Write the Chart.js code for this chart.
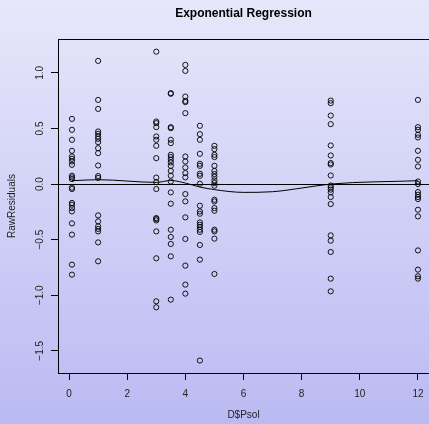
<!DOCTYPE html>
<html>
<head>
<meta charset="utf-8">
<script src="https://cdn.jsdelivr.net/npm/chart.js@4.4.0/dist/chart.umd.min.js"></script>
<style>
  html, body { margin: 0; padding: 0; background: #d0d0f6; }
  canvas { display: block; }
</style>
</head>
<body>
<canvas id="chartResid" width="429" height="424"></canvas>
<script>
// Psol levels and the raw residuals measured at each one
const psolLevels = [0.1, 1, 3, 3.5, 4, 4.5, 5, 9, 12];

const resAt0 = [0.586, 0.488, 0.398, 0.299, 0.248, 0.227, 0.203, 0.173, 0.075, 0.06, 0.045,
  -0.032, -0.045, -0.17, -0.186, -0.216, -0.246, -0.354, -0.455, -0.725, -0.815];
const resAt1 = [1.108, 0.757, 0.676, 0.473, 0.452, 0.428, 0.407, 0.377, 0.323, 0.278, 0.167,
  0.072, 0.055, -0.282, -0.336, -0.381, -0.404, -0.426, -0.525, -0.695];
const resAt3 = [1.191, 0.562, 0.548, 0.512, 0.428, 0.398, 0.344, 0.233, 0.058, 0.018, -0.045,
  -0.306, -0.314, -0.327, -0.426, -0.668, -1.055, -1.109];
const resAt3_5 = [0.818, 0.812, 0.512, 0.503, 0.398, 0.368, 0.263, 0.243, 0.218, 0.194, 0.164,
  0.118, 0.075, 0.023, -0.075, -0.177, -0.411, -0.476, -0.539, -0.65, -1.04];
const resAt4 = [1.072, 1.018, 0.787, 0.748, 0.737, 0.638, 0.248, 0.203, 0.149, 0.099, 0.06,
  -0.09, -0.156, -0.3, -0.494, -0.734, -0.905, -0.986];
const resAt4_5 = [0.524, 0.449, 0.398, 0.272, 0.182, 0.164, 0.093, 0.075, 0.003, -0.195, -0.246,
  -0.267, -0.345, -0.366, -0.386, -0.411, -0.431, -0.548, -0.68, -1.588];
const resAt5 = [0.344, 0.314, 0.263, 0.243, 0.164, 0.118, 0.09, 0.065, 0.032, 0.009, -0.015,
  -0.141, -0.156, -0.216, -0.24, -0.411, -0.426, -0.491, -0.809];
const resAt9 = [0.751, 0.728, 0.616, 0.539, 0.347, 0.257, 0.189, 0.176, 0.077, -0.013, -0.03,
  -0.05, -0.075, -0.117, -0.18, -0.462, -0.51, -0.611, -0.851, -0.965];
const resAt12 = [0.757, 0.512, 0.488, 0.443, 0.419, 0.299, 0.218, 0.158, 0.023, 0.0, -0.072,
  -0.096, -0.117, -0.135, -0.231, -0.291, -0.597, -0.77, -0.83, -0.851];

const residualGroups = [resAt0, resAt1, resAt3, resAt3_5, resAt4, resAt4_5, resAt5, resAt9, resAt12];

// smoother through the residuals
const smoothX = [0.1, 1, 3, 3.5, 4, 4.5, 5, 6, 7, 8, 9, 12];
const smoothY = [0.03, 0.039, 0.015, 0.032, 0.009, -0.027, -0.05, -0.075, -0.069, -0.036, 0, 0.03];

const xTicks = [0, 2, 4, 6, 8, 10, 12];
const yTicks = [-1.5, -1, -0.5, 0, 0.5, 1];
const xRange = [-0.38, 12.38];
const yRange = [-1.70, 1.305];
const refLevel = 0;

const points = psolLevels.flatMap((x, i) => residualGroups[i].map(y => ({ x: x, y: y })));
const smoothPts = smoothX.map((x, i) => ({ x: x, y: smoothY[i] }));

const FONT = 'Liberation Sans, Arial, Helvetica, sans-serif';

// gradient backdrop behind everything
const backdrop = {
  id: 'backdrop',
  beforeDraw(chart) {
    const { ctx, width, height } = chart;
    const g = ctx.createLinearGradient(0, 0, 0, height);
    g.addColorStop(0, '#e7e7fb');
    g.addColorStop(1, '#babaf3');
    ctx.save();
    ctx.fillStyle = g;
    ctx.fillRect(0, 0, width, height);
    ctx.restore();
  }
};

// plot frame and horizontal reference line
const frame = {
  id: 'frame',
  beforeDatasetsDraw(chart) {
    const { ctx, chartArea: a, scales } = chart;
    const y0 = Math.round(scales.y.getPixelForValue(refLevel)) + 0.5;
    ctx.save();
    ctx.strokeStyle = '#000';
    ctx.lineWidth = 1;
    ctx.strokeRect(a.left + 0.5, a.top + 0.5, a.right - a.left, a.bottom - a.top);
    ctx.beginPath();
    ctx.moveTo(a.left, y0);
    ctx.lineTo(a.right, y0);
    ctx.stroke();
    ctx.restore();
  }
};

const tickGrid = {
  display: true,
  drawOnChartArea: false,
  drawTicks: true,
  tickLength: 7,
  color: '#000',
  lineWidth: 1
};

new Chart(document.getElementById('chartResid').getContext('2d'), {
  type: 'scatter',
  data: {
    datasets: [
      {
        label: 'residuals',
        data: points,
        pointStyle: 'circle',
        pointRadius: 2.6,
        borderWidth: 1,
        borderColor: 'rgba(0,0,0,0.9)',
        backgroundColor: 'rgba(0,0,0,0)'
      },
      {
        type: 'line',
        label: 'smooth',
        data: smoothPts,
        borderColor: '#000',
        borderWidth: 1,
        pointRadius: 0,
        cubicInterpolationMode: 'monotone',
        fill: false
      }
    ]
  },
  options: {
    responsive: false,
    animation: false,
    events: [],
    layout: { padding: 0, autoPadding: false },
    plugins: {
      legend: { display: false },
      tooltip: { enabled: false },
      title: {
        display: true,
        fullSize: false,
        text: 'Exponential Regression',
        color: '#000',
        font: { family: FONT, size: 12, weight: 'bold' },
        padding: { top: 6, bottom: 18.6 }
      }
    },
    scales: {
      x: {
        type: 'linear',
        min: xRange[0],
        max: xRange[1],
        afterBuildTicks: s => { s.ticks = xTicks.map(v => ({ value: v })); },
        afterFit: s => { s.height = 51; s.paddingLeft = 0; s.paddingRight = 0; },
        grid: tickGrid,
        border: { display: false },
        ticks: {
          color: '#222',
          font: { family: FONT, size: 10 },
          padding: 8,
          maxRotation: 0,
          autoSkip: false
        },
        title: {
          display: true,
          text: 'D$Psol',
          color: '#222',
          font: { family: FONT, size: 10 },
          padding: { top: 0, bottom: 3 }
        }
      },
      y: {
        type: 'linear',
        min: yRange[0],
        max: yRange[1],
        afterBuildTicks: s => { s.ticks = yTicks.map(v => ({ value: v })); },
        afterFit: s => { s.width = 58; s.paddingTop = 0; s.paddingBottom = 0; },
        grid: tickGrid,
        border: { display: false },
        ticks: {
          color: '#222',
          font: { family: FONT, size: 10 },
          padding: 1,
          minRotation: 90,
          maxRotation: 90,
          crossAlign: 'center',
          autoSkip: false,
          callback: v => v.toFixed(1).replace('-', '\u2212')
        },
        title: {
          display: true,
          text: 'RawResiduals',
          color: '#222',
          font: { family: FONT, size: 10 },
          padding: { top: 6, bottom: 0 }
        }
      }
    }
  },
  plugins: [backdrop, frame]
});
</script>
</body>
</html>
